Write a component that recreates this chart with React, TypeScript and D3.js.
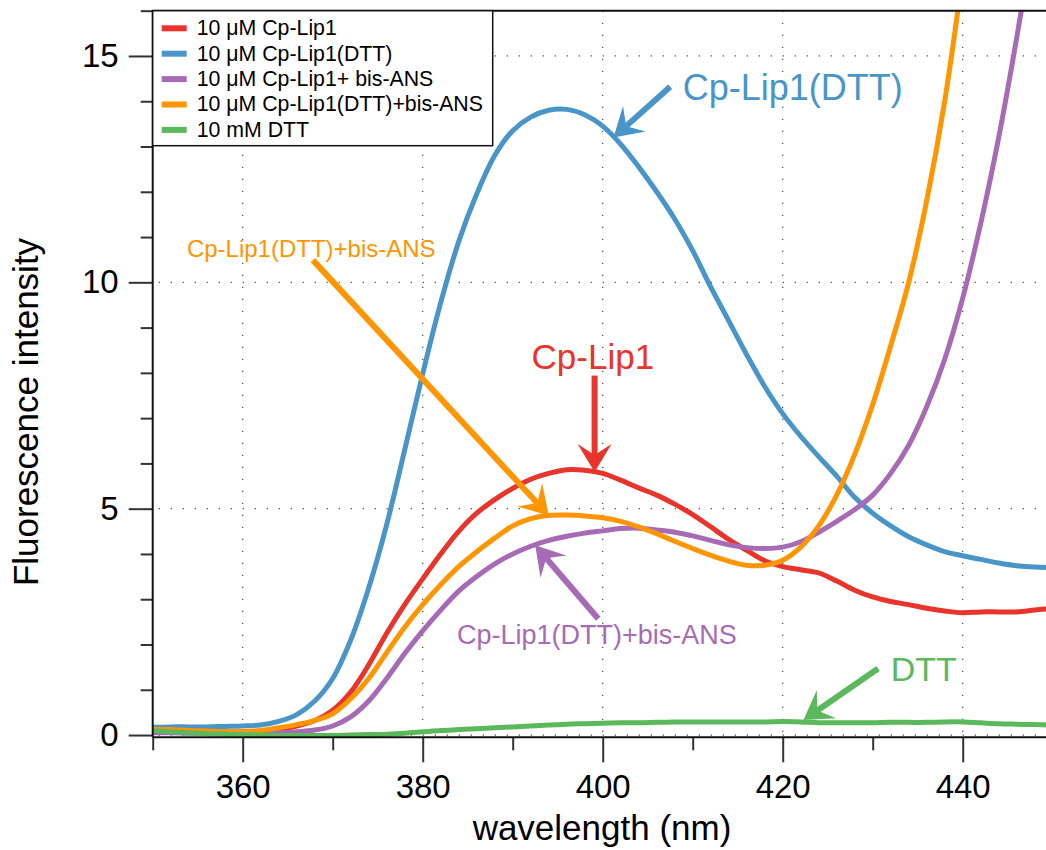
import React, { useEffect, useRef } from "react";
import * as d3 from "d3";

// emission wavelengths (nm)
const wavelength = [
  350, 352, 354, 356, 358, 360, 362, 364, 366, 368, 370, 372, 374, 376, 378, 380, 382,
  384, 386, 388, 390, 392, 394, 396, 398, 400, 402, 404, 406, 408, 410, 412, 414, 416,
  418, 420, 422, 424, 426, 428, 430, 432, 434, 436, 438, 440, 442, 444, 446, 448, 450,
];

// fluorescence intensity
const cpLip1 = [
  0.12, 0.1, 0.08, 0.07, 0.06, 0.06, 0.08, 0.12, 0.2, 0.32, 0.55, 0.95, 1.55, 2.25, 2.88, 3.45,
  4.0, 4.5, 4.9, 5.2, 5.45, 5.65, 5.78, 5.86, 5.85, 5.78, 5.63, 5.46, 5.3, 5.1, 4.87, 4.6,
  4.32, 4.08, 3.85, 3.72, 3.65, 3.58, 3.4, 3.2, 3.05, 2.95, 2.88, 2.8, 2.74, 2.7, 2.72, 2.72,
  2.72, 2.76, 2.8,
];
const cpLip1Dtt = [
  0.17, 0.18, 0.18, 0.18, 0.19, 0.2, 0.22, 0.3, 0.45, 0.75, 1.25, 2.1, 3.25, 4.65, 6.3, 7.98,
  9.55, 10.9, 11.95, 12.8, 13.35, 13.65, 13.8, 13.82, 13.7, 13.45, 13.05, 12.55, 12.0, 11.4,
  10.7, 9.9, 9.15, 8.4, 7.7, 7.1, 6.6, 6.15, 5.72, 5.25, 4.9, 4.62, 4.38, 4.2, 4.05, 3.96,
  3.88, 3.8, 3.74, 3.71, 3.7,
];
const cpLip1BisAns = [
  0.05, 0.05, 0.04, 0.04, 0.04, 0.04, 0.04, 0.05, 0.07, 0.11, 0.2, 0.4, 0.75, 1.25, 1.8, 2.3,
  2.76, 3.18, 3.5, 3.78, 4.0, 4.17, 4.3, 4.39, 4.46, 4.51, 4.56, 4.57, 4.53, 4.48, 4.4, 4.3,
  4.2, 4.14, 4.12, 4.15, 4.27, 4.48, 4.72, 4.98, 5.3, 5.78, 6.4, 7.25, 8.3, 9.65, 11.3, 13.2,
  15.4, 17.8,
];
const cpLip1DttBisAns = [
  0.13, 0.12, 0.1, 0.09, 0.08, 0.08, 0.1, 0.16, 0.23, 0.32, 0.47, 0.8, 1.25, 1.82, 2.38, 2.88,
  3.32, 3.72, 4.05, 4.35, 4.62, 4.78, 4.85, 4.86, 4.84, 4.8, 4.72, 4.6, 4.45, 4.28, 4.12, 3.97,
  3.84, 3.75, 3.75, 3.86, 4.15, 4.62, 5.3, 6.2, 7.3, 8.6, 10.0, 11.8, 14.0, 16.8,
];
const dtt = [
  0.1, 0.07, 0.05, 0.03, 0.02, 0.01, 0.0, -0.01, -0.01, -0.01, -0.01, 0.0, 0.01, 0.02, 0.04,
  0.07, 0.1, 0.12, 0.14, 0.16, 0.18, 0.2, 0.22, 0.24, 0.25, 0.26, 0.27, 0.27, 0.28, 0.29,
  0.29, 0.29, 0.29, 0.29, 0.29, 0.3, 0.29, 0.27, 0.27, 0.27, 0.27, 0.28, 0.28, 0.28, 0.29,
  0.29, 0.27, 0.25, 0.24, 0.23, 0.22,
];

const seriesNames = [
  "10 μM Cp-Lip1",
  "10 μM Cp-Lip1(DTT)",
  "10 μM Cp-Lip1+ bis-ANS",
  "10 μM Cp-Lip1(DTT)+bis-ANS",
  "10 mM DTT",
];
const seriesValues = [cpLip1, cpLip1Dtt, cpLip1BisAns, cpLip1DttBisAns, dtt];
const seriesColors = ["#e8342a", "#4a95c8", "#a76ab4", "#ff9500", "#5cb85c"];

const xMajorTicks = [360, 380, 400, 420, 440];
const xMinorTicks = [350, 370, 390, 410, 430, 450];
const yMajorTicks = [0, 5, 10, 15];
const yMinorTicks = [1, 2, 3, 4, 6, 7, 8, 9, 11, 12, 13, 14, 16];

// callout labels, in data units: label anchor, arrow tail, arrow tip
const calloutTexts = ["Cp-Lip1(DTT)", "Cp-Lip1(DTT)+bis-ANS", "Cp-Lip1", "Cp-Lip1(DTT)+bis-ANS", "DTT"];
const calloutSeries = [1, 3, 0, 2, 4];
const calloutLabelAt = [[408.9, 14.02], [353.8, 10.57], [392.1, 8.09], [383.8, 2.02], [432.0, 1.2]];
const calloutFrom = [[407.5, 14.32], [367.8, 10.49], [399.1, 7.94], [399.5, 2.57], [430.6, 1.47]];
const calloutTo = [[401.2, 13.2], [394.0, 4.85], [399.1, 5.81], [392.5, 4.19], [422.3, 0.33]];
const calloutFontSize = [36, 24, 35, 27, 34];

const FONT = "'Liberation Sans', Arial, Helvetica, sans-serif";

const App = () => {
  const svgRef = useRef(null);

  useEffect(() => {
    if (!svgRef.current) return;
    const width = 1046;
    const height = 850;
    const left = 152.7;
    const top = 10.7;
    const bottom = 737.3;

    const x = d3.scaleLinear().domain([350, 450]).range([left, left + 900]);
    const y = d3.scaleLinear().domain([-0.05, 16]).range([bottom, top]);

    const svg = d3.select(svgRef.current);
    svg.selectAll("*").remove();
    svg.attr("width", width).attr("height", height);

    svg
      .append("defs")
      .append("clipPath")
      .attr("id", "plot-clip")
      .append("rect")
      .attr("x", left)
      .attr("y", top)
      .attr("width", 900)
      .attr("height", bottom - top + 20);

    // dotted grid
    const grid = svg.append("g").attr("stroke", "#555").attr("stroke-width", 1.3);
    grid
      .selectAll("line.gx")
      .data(xMajorTicks)
      .enter()
      .append("line")
      .attr("x1", (d) => x(d))
      .attr("x2", (d) => x(d))
      .attr("y1", top)
      .attr("y2", bottom)
      .attr("stroke-dasharray", "1.3 10.7");
    grid
      .selectAll("line.gy")
      .data(yMajorTicks)
      .enter()
      .append("line")
      .attr("x1", left)
      .attr("x2", width)
      .attr("y1", (d) => y(d))
      .attr("y2", (d) => y(d))
      .attr("stroke-dasharray", "1.3 10.7")
      .attr("stroke-dashoffset", -6);

    // spectra
    const line = d3
      .line()
      .x((d) => x(d[0]))
      .y((d) => y(d[1]))
      .curve(d3.curveCatmullRom.alpha(0.5));

    const curves = svg.append("g").attr("clip-path", "url(#plot-clip)");
    seriesValues.forEach((vals, i) => {
      const pts = vals.map((v, j) => [wavelength[j], v]);
      curves
        .append("path")
        .attr("d", line(pts))
        .attr("fill", "none")
        .attr("stroke", seriesColors[i])
        .attr("stroke-width", 5)
        .attr("stroke-linejoin", "round");
    });

    // axes
    const yAxis = svg
      .append("g")
      .attr("transform", `translate(${left},0)`)
      .call(d3.axisLeft(y).tickValues(yMajorTicks).tickSize(24).tickPadding(10).tickSizeOuter(0));
    svg
      .append("g")
      .attr("transform", `translate(${left},0)`)
      .call(d3.axisLeft(y).tickValues(yMinorTicks).tickSize(12).tickFormat(() => "").tickSizeOuter(0));
    const xAxis = svg
      .append("g")
      .attr("transform", `translate(0,${bottom})`)
      .call(d3.axisBottom(x).tickValues(xMajorTicks).tickSize(25).tickPadding(12).tickSizeOuter(0));
    svg
      .append("g")
      .attr("transform", `translate(0,${bottom})`)
      .call(d3.axisBottom(x).tickValues(xMinorTicks).tickSize(13).tickFormat(() => "").tickSizeOuter(0));

    svg.selectAll(".domain").remove();
    svg.selectAll(".tick line").attr("stroke", "#333").attr("stroke-width", 2);
    [yAxis, xAxis].forEach((a) =>
      a.selectAll("text").attr("font-size", 33).attr("font-family", FONT).attr("fill", "#000")
    );

    // frame
    svg
      .append("path")
      .attr("d", `M${left},${bottom}V${top}H${width}M${left},${bottom}H${width}`)
      .attr("fill", "none")
      .attr("stroke", "#111")
      .attr("stroke-width", 2);

    // axis titles
    svg
      .append("text")
      .attr("x", 602)
      .attr("y", 840)
      .attr("text-anchor", "middle")
      .attr("font-family", FONT)
      .attr("font-size", 35)
      .text("wavelength (nm)");
    svg
      .append("text")
      .attr("transform", `translate(38,${(top + bottom) / 2 + 38}) rotate(-90)`)
      .attr("text-anchor", "middle")
      .attr("font-family", FONT)
      .attr("font-size", 35)
      .text("Fluorescence intensity");

    // callouts
    const calloutG = svg.append("g");
    calloutTexts.forEach((t, i) => {
      const color = seriesColors[calloutSeries[i]];
      const [lx, ly] = calloutLabelAt[i];
      calloutG
        .append("text")
        .attr("x", x(lx))
        .attr("y", y(ly))
        .attr("font-family", FONT)
        .attr("font-size", calloutFontSize[i])
        .attr("fill", color)
        .text(t);

      const x0 = x(calloutFrom[i][0]);
      const y0 = y(calloutFrom[i][1]);
      const x1 = x(calloutTo[i][0]);
      const y1 = y(calloutTo[i][1]);
      const len = Math.hypot(x1 - x0, y1 - y0);
      const ux = (x1 - x0) / len;
      const uy = (y1 - y0) / len;
      const nx = -uy;
      const ny = ux;
      const back = 28;
      const notch = 17;
      const half = 17;
      calloutG
        .append("line")
        .attr("x1", x0)
        .attr("y1", y0)
        .attr("x2", x1 - ux * notch)
        .attr("y2", y1 - uy * notch)
        .attr("stroke", color)
        .attr("stroke-width", 6);
      const head = [
        [x1, y1],
        [x1 - ux * back + nx * half, y1 - uy * back + ny * half],
        [x1 - ux * notch, y1 - uy * notch],
        [x1 - ux * back - nx * half, y1 - uy * back - ny * half],
      ];
      calloutG
        .append("path")
        .attr("d", "M" + head.map((p) => p.join(",")).join("L") + "Z")
        .attr("fill", color);
    });

    // legend
    const legend = svg.append("g");
    legend
      .append("rect")
      .attr("x", left)
      .attr("y", top)
      .attr("width", 340)
      .attr("height", 135)
      .attr("fill", "#fff")
      .attr("stroke", "#111")
      .attr("stroke-width", 1.5);
    seriesNames.forEach((name, i) => {
      const cy = 28.3 + i * 25.4;
      legend
        .append("line")
        .attr("x1", left + 9)
        .attr("x2", left + 34)
        .attr("y1", cy)
        .attr("y2", cy)
        .attr("stroke", seriesColors[i])
        .attr("stroke-width", 6);
      legend
        .append("text")
        .attr("x", left + 44)
        .attr("y", cy + 6.8)
        .attr("font-family", FONT)
        .attr("font-size", 21.3)
        .text(name);
    });
  }, []);

  return (
    <svg
      ref={svgRef}
      style={{ position: "absolute", left: 0, top: 0, background: "#fff" }}
    ></svg>
  );
};

export default App;
